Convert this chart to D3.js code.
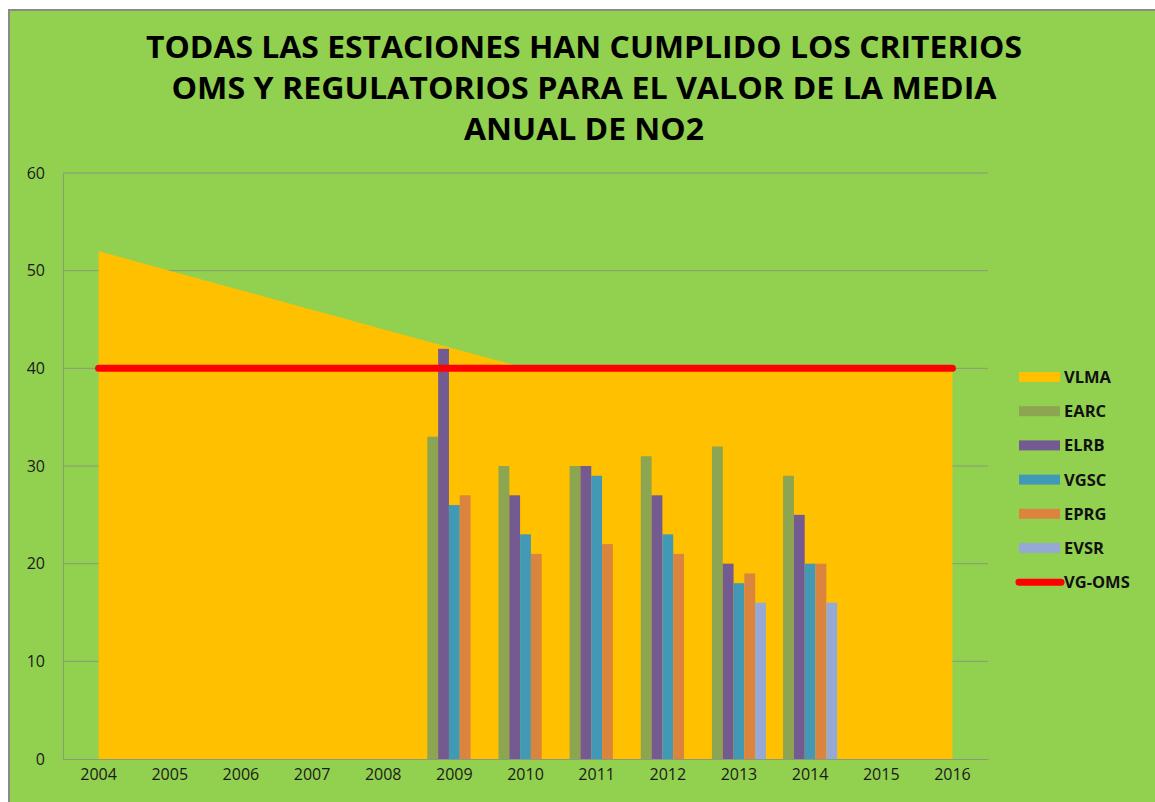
<!DOCTYPE html>
<html>
<head>
<meta charset="utf-8">
<script src="https://cdn.jsdelivr.net/npm/d3@7"></script>
<style>
  body { margin: 0; background: #fff; }
  svg { display: block; }
  text { font-family: "Open Sans", "DejaVu Sans", sans-serif; }
</style>
</head>
<body>
<svg id="chart"></svg>
<script>
// years on the x axis
var years = ["2004","2005","2006","2007","2008","2009","2010","2011","2012","2013","2014","2015","2016"];
// limit value (area) and WHO guide value (line)
var vlma = [52, 50, 48, 46, 44, 42, 40, 40, 40, 40, 40, 40, 40];
var vgOms = [40, 40, 40, 40, 40, 40, 40, 40, 40, 40, 40, 40, 40];
// stations, bars only from 2009 to 2014
var barYears = ["2009","2010","2011","2012","2013","2014"];
var stations = ["EARC","ELRB","VGSC","EPRG","EVSR"];
var earc = [33, 30, 30, 31, 32, 29];
var elrb = [42, 27, 30, 27, 20, 25];
var vgsc = [26, 23, 29, 23, 18, 20];
var eprg = [27, 21, 22, 21, 19, 20];
var evsr = [null, null, null, null, 16, 16];
var yTicks = [0, 10, 20, 30, 40, 50, 60];
var titleLines = [
  "TODAS LAS ESTACIONES HAN CUMPLIDO LOS CRITERIOS",
  "OMS Y REGULATORIOS PARA EL VALOR DE LA MEDIA",
  "ANUAL DE NO2"
];
var legendNames = ["VLMA","EARC","ELRB","VGSC","EPRG","EVSR","VG-OMS"];

var colors = {
  VLMA: "#FFC000", EARC: "#8CA550", ELRB: "#735A91", VGSC: "#4199B5",
  EPRG: "#DB843D", EVSR: "#95A9D4", "VG-OMS": "#FF0000"
};
var stationValues = [earc, elrb, vgsc, eprg, evsr];

var W = 1155, H = 802;
var svg = d3.select("#chart").attr("width", W).attr("height", H);

// background frame
svg.append("rect").attr("x", 9).attr("y", 10).attr("width", W).attr("height", H)
  .attr("fill", "#92D050").attr("stroke", "#898989").attr("stroke-width", 2);

var plotL = 63, plotR = 988, plotT = 173, plotB = 759;

var x = d3.scaleBand().domain(years).range([plotL, plotR]).padding(0);
var y = d3.scaleLinear().domain([0, 60]).range([plotB, plotT]);
var xc = function(d) { return x(d) + x.bandwidth() / 2; };

// gridlines
svg.append("g").selectAll("line").data(yTicks.filter(function(d){ return d > 0; }))
  .join("line")
  .attr("x1", plotL).attr("x2", plotR)
  .attr("y1", function(d){ return y(d); }).attr("y2", function(d){ return y(d); })
  .attr("stroke", "#8a9a7a").attr("stroke-width", 1);

// area VLMA
var area = d3.area()
  .x(function(d, i){ return xc(years[i]); })
  .y0(y(0))
  .y1(function(d){ return y(d); });
svg.append("path").datum(vlma).attr("d", area).attr("fill", colors.VLMA);

// bars
var inner = d3.scaleBand().domain(stations).range([0, x.bandwidth() * 0.76]);
var barData = [];
barYears.forEach(function(yr, i) {
  stations.forEach(function(s, j) {
    var v = stationValues[j][i];
    if (v != null) barData.push({year: yr, station: s, value: v});
  });
});
var groupOffset = x.bandwidth() * 0.12;
svg.append("g").selectAll("rect").data(barData).join("rect")
  .attr("x", function(d){ return x(d.year) + groupOffset + inner(d.station); })
  .attr("width", inner.bandwidth())
  .attr("y", function(d){ return y(d.value); })
  .attr("height", function(d){ return y(0) - y(d.value); })
  .attr("fill", function(d){ return colors[d.station]; });

// VG-OMS line
var line = d3.line()
  .x(function(d, i){ return xc(years[i]); })
  .y(function(d){ return y(d); });
svg.append("path").datum(vgOms).attr("d", line)
  .attr("fill", "none").attr("stroke", colors["VG-OMS"])
  .attr("stroke-width", 7).attr("stroke-linecap", "round");

// axes
var yAxis = svg.append("g").attr("transform", "translate(" + plotL + ",0)")
  .call(d3.axisLeft(y).tickValues(yTicks).tickSize(0).tickPadding(18));
yAxis.select(".domain").attr("stroke", "#8a9a7a");
yAxis.selectAll("text").attr("font-size", 16).attr("fill", "#1a1a1a");

var xAxis = svg.append("g").attr("transform", "translate(0," + plotB + ")")
  .call(d3.axisBottom(x).tickSize(0).tickPadding(10));
xAxis.select(".domain").attr("stroke", "#8a9a7a");
xAxis.selectAll("text").attr("font-size", 16).attr("fill", "#1a1a1a");

// title
var titleWidths = [876, 825, 240];
svg.append("g").selectAll("text").data(titleLines).join("text")
  .attr("x", 584)
  .attr("y", function(d, i){ return 58 + i * 41; })
  .attr("text-anchor", "middle")
  .attr("font-size", 31).attr("font-weight", "bold").attr("fill", "#000")
  .attr("textLength", function(d, i){ return titleWidths[i]; })
  .attr("lengthAdjust", "spacingAndGlyphs")
  .text(function(d){ return d; });

// legend
var lg = svg.append("g").selectAll("g").data(legendNames).join("g")
  .attr("transform", function(d, i){ return "translate(1019," + (377 + i * 34.2) + ")"; });
lg.each(function(d) {
  var g = d3.select(this);
  if (d === "VG-OMS") {
    g.append("line").attr("x1", 0).attr("x2", 42)
      .attr("y1", 0).attr("y2", 0)
      .attr("stroke", colors[d]).attr("stroke-width", 7).attr("stroke-linecap", "round");
  } else {
    g.append("rect").attr("x", 0).attr("y", -5).attr("width", 41).attr("height", 10)
      .attr("fill", colors[d]);
  }
  g.append("text").attr("x", 45).attr("y", 0).attr("dy", "0.36em")
    .attr("font-size", 16.5).attr("font-weight", "bold").attr("fill", "#111")
    .text(d);
});
</script>
</body>
</html>
